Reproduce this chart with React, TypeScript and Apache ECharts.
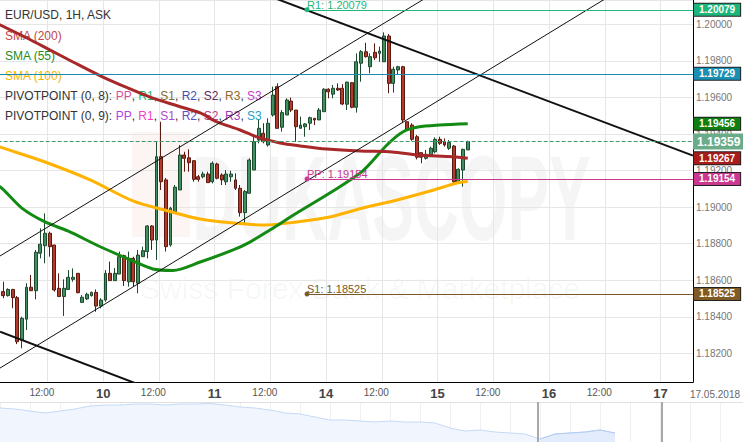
import React, { useEffect, useRef } from 'react';
import * as echarts from 'echarts';

const FONT = '"Liberation Sans", Arial, sans-serif';

// time slots (weekend removed), 1H candles
const tradingDays = ['09', '10', '11', '14', '15', '16', '17'];
const hoursOnLastDay = 7;
const firstCandleSlot = 2; // first visible candle = 09 02:00
const dateLabel = '17.05.2018';

// [open, high, low, close]
const candles: [number, number, number, number][] = [
  [1.18538, 1.18592, 1.18502, 1.18516], [1.18516, 1.18556, 1.18511, 1.18550], [1.18550, 1.18553, 1.18447, 1.18505],
  [1.18505, 1.18514, 1.18251, 1.18264], [1.18273, 1.18401, 1.18228, 1.18392], [1.18387, 1.18584, 1.18328, 1.18562],
  [1.18562, 1.18629, 1.18543, 1.18543], [1.18543, 1.18766, 1.18496, 1.18753], [1.18748, 1.18884, 1.18720, 1.18797],
  [1.18789, 1.18966, 1.18693, 1.18857], [1.18857, 1.18866, 1.18729, 1.18784], [1.18793, 1.18793, 1.18538, 1.18547],
  [1.18556, 1.18638, 1.18511, 1.18511], [1.18511, 1.18605, 1.18405, 1.18556], [1.18550, 1.18656, 1.18547, 1.18616],
  [1.18605, 1.18665, 1.18592, 1.18616], [1.18638, 1.18640, 1.18529, 1.18532], [1.18479, 1.18519, 1.18479, 1.18507],
  [1.18498, 1.18532, 1.18492, 1.18523], [1.18516, 1.18538, 1.18511, 1.18534], [1.18534, 1.18550, 1.18428, 1.18459],
  [1.18459, 1.18502, 1.18447, 1.18492], [1.18492, 1.18656, 1.18483, 1.18638], [1.18638, 1.18702, 1.18598, 1.18598],
  [1.18598, 1.18667, 1.18598, 1.18638], [1.18634, 1.18757, 1.18634, 1.18729], [1.18735, 1.18740, 1.18569, 1.18598],
  [1.18592, 1.18757, 1.18565, 1.18720], [1.18720, 1.18729, 1.18565, 1.18592], [1.18584, 1.18766, 1.18529, 1.18738],
  [1.18729, 1.18784, 1.18729, 1.18762], [1.18757, 1.18902, 1.18720, 1.18897], [1.18897, 1.18902, 1.18766, 1.18820],
  [1.18820, 1.19358, 1.18711, 1.19276], [1.19276, 1.19467, 1.19094, 1.19139], [1.19149, 1.19159, 1.18757, 1.18784],
  [1.18793, 1.19002, 1.18784, 1.18994], [1.18975, 1.19121, 1.18966, 1.19109], [1.19094, 1.19340, 1.19094, 1.19285],
  [1.19285, 1.19303, 1.19194, 1.19267], [1.19270, 1.19316, 1.19194, 1.19243], [1.19254, 1.19258, 1.19139, 1.19152],
  [1.19166, 1.19176, 1.19139, 1.19152], [1.19166, 1.19194, 1.19158, 1.19181], [1.19181, 1.19194, 1.19134, 1.19134],
  [1.19139, 1.19250, 1.19130, 1.19240], [1.19236, 1.19243, 1.19152, 1.19158], [1.19176, 1.19185, 1.19121, 1.19149],
  [1.19139, 1.19203, 1.19121, 1.19181], [1.19166, 1.19199, 1.19139, 1.19181], [1.19149, 1.19185, 1.19094, 1.19103],
  [1.19103, 1.19121, 1.18948, 1.18970], [1.18970, 1.19094, 1.18912, 1.19085], [1.19076, 1.19267, 1.19076, 1.19258],
  [1.19203, 1.19395, 1.19203, 1.19358], [1.19367, 1.19477, 1.19349, 1.19431], [1.19404, 1.19459, 1.19349, 1.19358],
  [1.19340, 1.19486, 1.19331, 1.19459], [1.19504, 1.19659, 1.19495, 1.19613], [1.19659, 1.19677, 1.19431, 1.19431],
  [1.19437, 1.19531, 1.19413, 1.19517], [1.19504, 1.19595, 1.19504, 1.19586], [1.19580, 1.19599, 1.19520, 1.19531],
  [1.19531, 1.19531, 1.19358, 1.19440], [1.19431, 1.19495, 1.19431, 1.19449], [1.19440, 1.19460, 1.19385, 1.19455],
  [1.19459, 1.19495, 1.19422, 1.19489], [1.19486, 1.19486, 1.19449, 1.19477], [1.19477, 1.19542, 1.19477, 1.19531],
  [1.19522, 1.19650, 1.19522, 1.19645], [1.19645, 1.19650, 1.19595, 1.19631], [1.19618, 1.19668, 1.19595, 1.19650],
  [1.19650, 1.19677, 1.19635, 1.19641], [1.19650, 1.19673, 1.19558, 1.19564], [1.19563, 1.19686, 1.19531, 1.19684],
  [1.19681, 1.19684, 1.19541, 1.19546], [1.19546, 1.19841, 1.19517, 1.19795], [1.19787, 1.19859, 1.19686, 1.19850],
  [1.19850, 1.19899, 1.19818, 1.19823], [1.19768, 1.19841, 1.19732, 1.19823], [1.19847, 1.19896, 1.19805, 1.19817],
  [1.19841, 1.19878, 1.19795, 1.19854], [1.19795, 1.19956, 1.19795, 1.19936], [1.19936, 1.19947, 1.19623, 1.19677],
  [1.19677, 1.19768, 1.19626, 1.19754], [1.19750, 1.19773, 1.19723, 1.19768], [1.19768, 1.19773, 1.19459, 1.19477],
  [1.19467, 1.19467, 1.19418, 1.19426], [1.19449, 1.19459, 1.19363, 1.19371], [1.19385, 1.19395, 1.19261, 1.19273],
  [1.19298, 1.19298, 1.19240, 1.19273], [1.19267, 1.19313, 1.19260, 1.19289], [1.19285, 1.19331, 1.19285, 1.19322],
  [1.19303, 1.19382, 1.19294, 1.19371], [1.19371, 1.19385, 1.19340, 1.19349], [1.19358, 1.19376, 1.19331, 1.19340],
  [1.19322, 1.19367, 1.19313, 1.19353], [1.19334, 1.19340, 1.19130, 1.19139], [1.19134, 1.19212, 1.19130, 1.19207],
  [1.19203, 1.19320, 1.19112, 1.19316], [1.19313, 1.19364, 1.19313, 1.19359],
];

// moving averages: [slot index, value]
const sma200: [number, number][] = [
  [0, 1.20013], [7.1, 1.19925], [12.1, 1.19859], [17, 1.19794], [23, 1.19717], [28.8, 1.19652], [33.6, 1.19602],
  [39.6, 1.19553], [44.4, 1.19515], [47.6, 1.19471], [53, 1.19422], [56.6, 1.19384], [61.6, 1.19351], [65.9, 1.19335],
  [71.7, 1.19318], [78.8, 1.19307], [85.7, 1.19302], [91.3, 1.19285], [98.8, 1.19276], [102, 1.19267],
];
const sma55: [number, number][] = [
  [0, 1.19132], [1.9, 1.19099], [6, 1.18995], [11, 1.18919], [15.9, 1.18870], [23, 1.18782], [29.9, 1.18706],
  [34.2, 1.18662], [38.5, 1.18654], [44.4, 1.18700], [51.5, 1.18766], [55.1, 1.18809], [59.4, 1.18875], [65.2, 1.18968],
  [72.3, 1.19077], [79.4, 1.19198], [84.6, 1.19340], [88, 1.19411], [91.3, 1.19438], [96, 1.19449], [102, 1.19456],
];
const sma100: [number, number][] = [
  [0, 1.19340], [1.9, 1.19324], [11, 1.19247], [20.7, 1.19149], [29.9, 1.19034], [37.5, 1.18979], [44.4, 1.18935],
  [51.5, 1.18913], [58.3, 1.18902], [65.2, 1.18919], [72.3, 1.18946], [79.4, 1.18995], [86.8, 1.19039], [93.9, 1.19088],
  [99.7, 1.19132], [102, 1.19140],
];

// pivot levels and other horizontal levels
const pivotStart = 67.4;
const pivotR1 = 1.20079;
const pivotPP = 1.19154;
const pivotS1 = 1.18525;
const levelBlue = 1.19729;

// trend lines: endpoints [slot index, price]
const trendThick: [number, number][][] = [
  [[59.4, 1.20153], [150.5, 1.19282]],
  [[1.3, 1.18319], [31.4, 1.18028]],
];
const trendThin: [number, number][][] = [
  [[1.3, 1.18733], [94.9, 1.20174]],
  [[1.3, 1.18120], [134.8, 1.20189]],
];

// navigator history
const navValues = [
  1.238, 1.236, 1.232, 1.228, 1.232, 1.236, 1.242, 1.244, 1.244, 1.246, 1.246, 1.244, 1.246, 1.246, 1.247,
  1.244, 1.240, 1.238, 1.234, 1.228, 1.226, 1.220, 1.214, 1.214, 1.212, 1.210, 1.212, 1.210, 1.210, 1.208,
  1.198, 1.192, 1.194, 1.190, 1.188, 1.186, 1.176, 1.186, 1.188, 1.190, 1.194, 1.188,
];
const navWindow = [35.87, 44.13];

const yMin = 1.180437;
const yMax = 1.201329;

const categories: string[] = [];
tradingDays.forEach((d, di) => {
  const n = di === tradingDays.length - 1 ? hoursOnLastDay : 24;
  for (let h = 0; h < n; h++) categories.push(`${d} ${String(h).padStart(2, '0')}:00`);
});
const X_MIN = -0.5;
const X_MAX = categories.length - 0.5;

const pivotRows = [
  { title: 'PIVOTPOINT (0, 8): ', colors: ['#d64f9f', '#22b573', '#8a6a30', '#3d50b0', '#5a2a5a', '#8a6a30', '#c83ccc'] },
  { title: 'PIVOTPOINT (0, 9): ', colors: ['#b040e8', '#f43fc4', '#b443d6', '#5a52c4', '#c03a8c', '#a23ab6', '#1e9fc6'] },
];
const pivotNames = ['PP', 'R1', 'S1', 'R2', 'S2', 'R3', 'S3'];

function boxLabel(value: number, bg: string, extra: any = {}) {
  return {
    show: true,
    position: 'end',
    distance: 1,
    formatter: value.toFixed(5),
    color: '#fff',
    opacity: 1,
    fontSize: 10,
    fontWeight: 'bold',
    fontFamily: FONT,
    backgroundColor: bg,
    borderColor: '#222',
    borderWidth: 1,
    padding: [1, 5, 0, 5],
    lineHeight: 11,
    ...extra,
  };
}

function boxItem(value: number, bg: string, extra: any = {}) {
  return [
    {
      coord: [X_MAX - 1, value],
      symbol: 'none',
      lineStyle: { color: 'rgba(0,0,0,0)', width: 0, opacity: 1 },
      label: boxLabel(value, bg, extra),
    },
    { coord: [X_MAX, value], symbol: 'none' },
  ];
}

function levelItem(start: number, value: number, color: string, text: string | null, dot: boolean, lineType = 'solid') {
  return [
    {
      coord: [start, value],
      symbol: dot ? 'circle' : 'none',
      symbolSize: 5,
      lineStyle: { color, width: 1, type: lineType, opacity: 1 },
      label: text
        ? {
            show: true,
            position: 'insideStartTop',
            formatter: text,
            color,
            fontSize: 11,
            lineHeight: 10,
            fontFamily: FONT,
            distance: 0,
          }
        : { show: false },
    },
    { coord: [X_MAX, value], symbol: 'none' },
  ];
}

export default function App() {
  const ref = useRef<HTMLDivElement>(null);

  useEffect(() => {
    document.body.style.margin = '0';
    if (!ref.current) return;
    const chart = echarts.init(ref.current, null, { renderer: 'svg' });

    const candleData = categories.map((_, i) => {
      const c = candles[i - firstCandleSlot];
      return c ? [c[0], c[3], c[2], c[1]] : ['-', '-', '-', '-'];
    });
    const lastClose = candles[candles.length - 1][3];
    const last55 = sma55[sma55.length - 1][1];
    const last200 = sma200[sma200.length - 1][1];

    const richFor = (colors: string[]) => {
      const r: any = {};
      colors.forEach((c, i) => {
        r['p' + i] = { fill: c, fontSize: 12, fontFamily: FONT };
      });
      return r;
    };

    const legendTexts: any[] = [
      { text: 'EUR/USD, 1H, ASK', color: '#333', y: 15 },
      { text: 'SMA (200)', color: '#c04848', y: 36 },
      { text: 'SMA (55)', color: '#1e8b1e', y: 56 },
      { text: 'SMA (100)', color: '#f5b400', y: 76 },
    ].map((t) => ({
      type: 'text',
      x: 5,
      y: t.y,
      z: 1,
      silent: true,
      style: { text: t.text, fill: t.color, fontSize: 12, fontFamily: FONT, verticalAlign: 'middle' },
    }));

    pivotRows.forEach((row, ri) => {
      legendTexts.push({
        type: 'text',
        x: 5,
        y: 96 + ri * 20,
        z: 1,
        silent: true,
        style: {
          text: row.title + pivotNames.map((n, i) => `{p${i}|${n}}`).join(', '),
          fill: '#333',
          fontSize: 12,
          fontFamily: FONT,
          verticalAlign: 'middle',
          rich: richFor(row.colors),
        },
      });
    });

    const lineSeries = (data: [number, number][], color: string, width: number, smooth: number | boolean, z: number) => ({
      type: 'line',
      xAxisIndex: 1,
      yAxisIndex: 0,
      data,
      symbol: 'none',
      smooth,
      silent: true,
      z,
      lineStyle: { color, width },
    });

    const option: any = {
      animation: false,
      backgroundColor: '#fff',
      grid: [
        { left: -8.34, top: 0, width: 701.34, height: 382, outerBoundsMode: 'none', containLabel: false },
        { left: 0, top: 402, width: 743, height: 40, outerBoundsMode: 'none', containLabel: false },
      ],
      xAxis: [
        { type: 'category', gridIndex: 0, data: categories, show: false, boundaryGap: true },
        {
          type: 'value',
          gridIndex: 0,
          min: X_MIN,
          max: X_MAX,
          interval: 12,
          position: 'bottom',
          axisLine: { show: true, onZero: false, lineStyle: { color: '#000', width: 1 } },
          axisTick: { show: false },
          splitLine: { show: true, lineStyle: { color: '#e6e6e6', width: 1 } },
          axisLabel: {
            showMinLabel: false,
            showMaxLabel: false,
            margin: 5,
            formatter: (val: number) => {
              const idx = Math.round(val + 0.5);
              const c = categories[idx];
              if (!c) return '';
              const [d, t] = c.split(' ');
              if (t === '00:00') return `{d|${parseInt(d, 10)}}`;
              if (t === '12:00') return '{t|12:00}';
              return '';
            },
            rich: {
              d: { fontSize: 13, fontWeight: 'bold', color: '#444', fontFamily: FONT },
              t: { fontSize: 10, color: '#555', fontFamily: FONT, padding: [0, 11, 0, 0] },
            },
          },
        },
        {
          type: 'value',
          gridIndex: 1,
          min: 0,
          max: 743 / 15,
          interval: 2,
          position: 'top',
          axisLine: { show: true, onZero: false, lineStyle: { color: '#e0e0e0', width: 1 } },
          axisTick: { show: false },
          axisLabel: { show: false },
          splitLine: { show: true, lineStyle: { color: '#f0f0f0', width: 1 } },
        },
      ],
      yAxis: [
        {
          type: 'value',
          gridIndex: 0,
          position: 'right',
          min: yMin,
          max: yMax,
          splitNumber: 10,
          axisLine: { show: true, onZero: false, lineStyle: { color: '#000', width: 1 } },
          axisTick: { show: false },
          splitLine: { show: true, lineStyle: { color: '#e6e6e6', width: 1 } },
          axisLabel: {
            showMinLabel: false,
            showMaxLabel: false,
            margin: 3,
            color: '#777',
            fontSize: 10,
            fontFamily: FONT,
            formatter: (v: number) => v.toFixed(5),
          },
        },
        { type: 'value', gridIndex: 1, min: 1.17, max: 1.25, show: false },
      ],
      graphic: [
        {
          type: 'rect',
          z: 0,
          silent: true,
          shape: { x: 132, y: 132, width: 58, height: 105 },
          style: { fill: 'rgba(220,60,60,0.06)' },
        },
        {
          type: 'text',
          x: 192,
          y: 198,
          scaleX: 0.52,
          z: 0,
          silent: true,
          style: {
            text: 'DUKASCOPY',
            fill: 'rgba(0,0,0,0.04)',
            fontSize: 120,
            fontWeight: 'bold',
            fontFamily: FONT,
            verticalAlign: 'middle',
          },
        },
        {
          type: 'text',
          x: 140,
          y: 288,
          z: 0,
          silent: true,
          style: {
            text: 'Swiss Forex Bank & Marketplace',
            fill: 'rgba(0,0,0,0.04)',
            fontSize: 30,
            fontFamily: FONT,
            verticalAlign: 'middle',
          },
        },
        ...legendTexts,
        {
          type: 'text',
          x: 715,
          y: 394,
          silent: true,
          style: { text: dateLabel, fill: '#666', fontSize: 10, fontFamily: FONT, align: 'center', verticalAlign: 'middle' },
        },
      ],
      series: [
        {
          type: 'line',
          xAxisIndex: 2,
          yAxisIndex: 1,
          data: navValues.map((v, i) => [i, v]),
          symbol: 'none',
          silent: true,
          color: '#c6d9f6',
          lineStyle: { color: '#c6d9f6', width: 1 },
          areaStyle: { color: '#f0f5fe', opacity: 1 },
          markLine: {
            silent: true,
            symbol: 'none',
            label: { show: false },
            lineStyle: { color: '#a8a8a8', width: 2, type: 'solid' },
            data: navWindow.map((x) => ({ xAxis: x })),
          },
        },
        {
          type: 'line',
          xAxisIndex: 2,
          yAxisIndex: 1,
          data: navValues.map((v, i) => [i, v]).filter(([i]) => i >= Math.ceil(navWindow[0])),
          symbol: 'none',
          silent: true,
          color: '#b3cdf3',
          lineStyle: { color: '#b3cdf3', width: 1 },
          areaStyle: { color: '#e2ecfc', opacity: 1 },
        },
        {
          type: 'candlestick',
          xAxisIndex: 0,
          yAxisIndex: 0,
          data: candleData,
          barWidth: 3.4,
          silent: true,
          z: 2,
          itemStyle: {
            color: '#3f8f5f',
            color0: '#b23a2a',
            borderColor: '#1d4a2e',
            borderColor0: '#5a1a12',
            borderWidth: 1,
          },
        },
        lineSeries(sma100, '#ffb300', 3, 0.3, 3),
        lineSeries(sma55, '#138a13', 3, 0.3, 3),
        lineSeries(sma200, '#a8282a', 3, 0.3, 3),
        ...trendThick.map((seg) => lineSeries(seg, '#111', 2, false, 4)),
        ...trendThin.map((seg) => lineSeries(seg, '#111', 1, false, 4)),
        {
          type: 'line',
          xAxisIndex: 1,
          yAxisIndex: 0,
          data: [],
          silent: true,
          z: 6,
          markLine: {
            silent: true,
            symbol: 'none',
            animation: false,
            lineStyle: { type: 'solid', width: 1 },
            data: [
              levelItem(X_MIN, levelBlue, '#1c8cb0', null, false),
              levelItem(X_MIN, lastClose, '#3f9a68', null, false, 'dashed'),
              levelItem(pivotStart, pivotR1, '#1db87a', `R1: ${pivotR1.toFixed(5)}`, true),
              levelItem(pivotStart, pivotPP, '#c9378f', `PP: ${pivotPP.toFixed(5)}`, true),
              levelItem(pivotStart, pivotS1, '#7a5a2a', `S1: ${pivotS1.toFixed(5)}`, true),
              boxItem(pivotR1, '#1cb57a'),
              boxItem(levelBlue, '#1a8fb3'),
              boxItem(last55, '#0f800f'),
              boxItem(last200, '#a81c1c'),
              boxItem(pivotPP, '#c9378f'),
              boxItem(pivotS1, '#7f5a25'),
              boxItem(lastClose, '#6aab8a', {
                fontSize: 12,
                lineHeight: 12,
                borderColor: '#6aab8a',
                padding: [1, 3, 1, 3],
              }),
            ],
          },
        },
      ],
    };

    chart.setOption(option);
    return () => chart.dispose();
  }, []);

  return <div ref={ref} style={{ width: 743, height: 442 }} />;
}
